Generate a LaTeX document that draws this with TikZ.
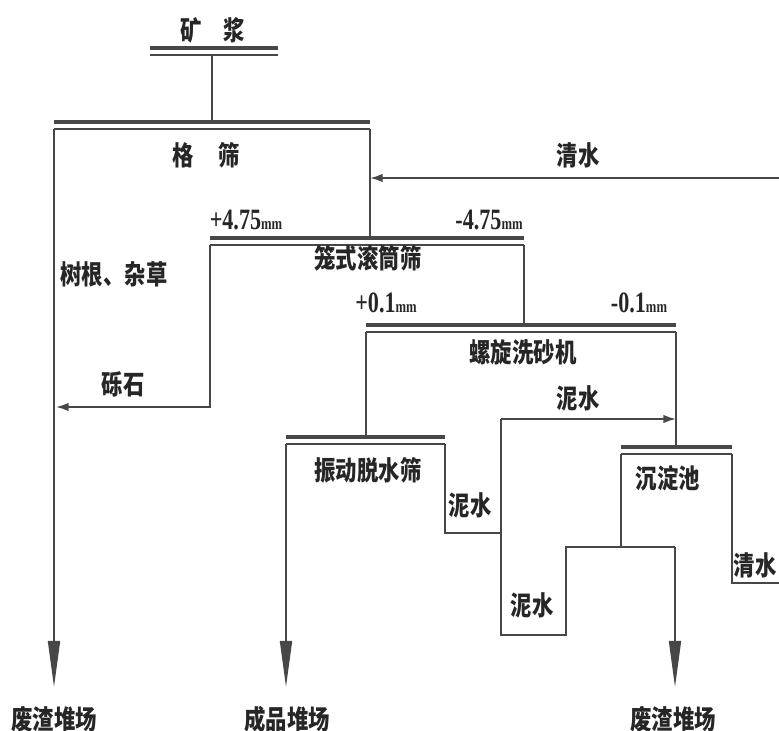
\documentclass[tikz,border=0pt]{standalone}
\usepackage{fontspec}
\newfontfamily\cjk[FakeStretch=0.8]{Noto Sans CJK SC}
\newfontfamily\numfont[FakeStretch=0.75]{Liberation Serif}
\usetikzlibrary{arrows.meta}

\begin{document}
\begin{tikzpicture}[x=0.025cm, y=-0.025cm,
	bar/.style={line width=2.6pt, draw=\lc},
	flow/.style={line width=1.2pt, draw=\lc},
	dump/.style={flow, -{Triangle[length=1.15cm, width=0.3cm]}},
	feed/.style={flow, -{Latex[length=9pt, width=6pt]}},
	label/.style={font=\cjk\bfseries\fontsize{19}{19}\selectfont, text=\tc, inner sep=0pt},
	size/.style={font=\numfont\bfseries\fontsize{21}{21}\selectfont, text=\tc, inner sep=0pt}]

	% frame and colours
	\def\lc{black!72!white}
	\def\tc{black!85!white}
	\useasboundingbox (0,0) rectangle (779,731);

	% screens: heavy bar with the thin outlet line under it
	\foreach \n/\xa/\xb/\y in {slurry/150/278/48, grizzly/54/370/122, trommel/210/524/238,
		washer/366/676/325, dewater/286/445/437, tank/621/732/447} {
		\draw[bar] (\xa,\y) -- (\xb,\y);
		\draw[flow] (\xa,\y+7) -- (\xb,\y+7);
		\coordinate (\n-l) at (\xa,\y+7);
		\coordinate (\n-r) at (\xb,\y+7);
		\coordinate (\n-top) at (\xa,\y);
	}

	% bends and free ends
	\coordinate (slurryOut) at (212,55);
	\coordinate (waterIn) at (779,178);
	\coordinate (gravel) at (56,407);
	\coordinate (mudTop) at (501,419);
	\coordinate (mudJoin) at (501,533);
	\coordinate (mudLow) at (501,635);
	\coordinate (pitL) at (566,547);
	\coordinate (pitR) at (675,547);
	\coordinate (clearOut) at (779,583);
	\coordinate (tipA) at (54,687);
	\coordinate (tipB) at (286,687);
	\coordinate (tipC) at (675,687);

	% labels
	\node[label] (slurry) at (213,30) {矿\hspace{0.8em}浆};
	\node[label] (grizzlyTxt) at (206,155) {格\hspace{0.9em}筛};
	\node[label] (water1) at (578,155) {清水};
	\node[size] (plusA) at (246,220) {+4.75{\fontsize{12}{12}\selectfont mm}};
	\node[size] (minusA) at (489,220) {-4.75{\fontsize{12}{12}\selectfont mm}};
	\node[label] (trommelTxt) at (368,258) {笼式滚筒筛};
	\node[label] (roots) at (114,274) {树根、杂草};
	\node[label] (gravelTxt) at (123,384) {砾石};
	\node[size] (plusB) at (386,303) {+0.1{\fontsize{12}{12}\selectfont mm}};
	\node[size] (minusB) at (639,303) {-0.1{\fontsize{12}{12}\selectfont mm}};
	\node[label] (washerTxt) at (523,352) {螺旋洗砂机};
	\node[label] (mud1) at (578,398) {泥水};
	\node[label] (dewaterTxt) at (368,470) {振动脱水筛};
	\node[label] (mud2) at (470,505) {泥水};
	\node[label] (tankTxt) at (668,478) {沉淀池};
	\node[label] (water2) at (755,565) {清水};
	\node[label] (mud3) at (532,605) {泥水};
	\node[label] (dumpA) at (54,719) {废渣堆场};
	\node[label] (product) at (287,719) {成品堆场};
	\node[label] (dumpB) at (673,719) {废渣堆场};

	% connections
	\draw[flow] (slurryOut) -- (slurryOut |- grizzly-top);
	\draw[dump] (grizzly-l) -- (tipA);
	\draw[flow] (grizzly-r) -- (grizzly-r |- trommel-top);
	\draw[feed] (waterIn) -- (waterIn -| grizzly-r);
	\draw[feed] (trommel-l) |- (gravel);
	\draw[flow] (trommel-r) -- (trommel-r |- washer-top);
	\draw[flow] (washer-l) -- (washer-l |- dewater-top);
	\draw[flow] (washer-r) -- (washer-r |- tank-top);
	\draw[dump] (dewater-l) -- (tipB);
	\draw[flow] (dewater-r) |- (mudJoin);
	\draw[feed] (mudTop) -- (mudTop -| washer-r);
	\draw[flow] (mudTop) -- (mudLow) -| (pitL) -- (pitR);
	\draw[flow] (tank-l) -- (tank-l |- pitL);
	\draw[dump] (pitR) -- (tipC);
	\draw[flow] (tank-r) |- (clearOut);

\end{tikzpicture}
\end{document}
